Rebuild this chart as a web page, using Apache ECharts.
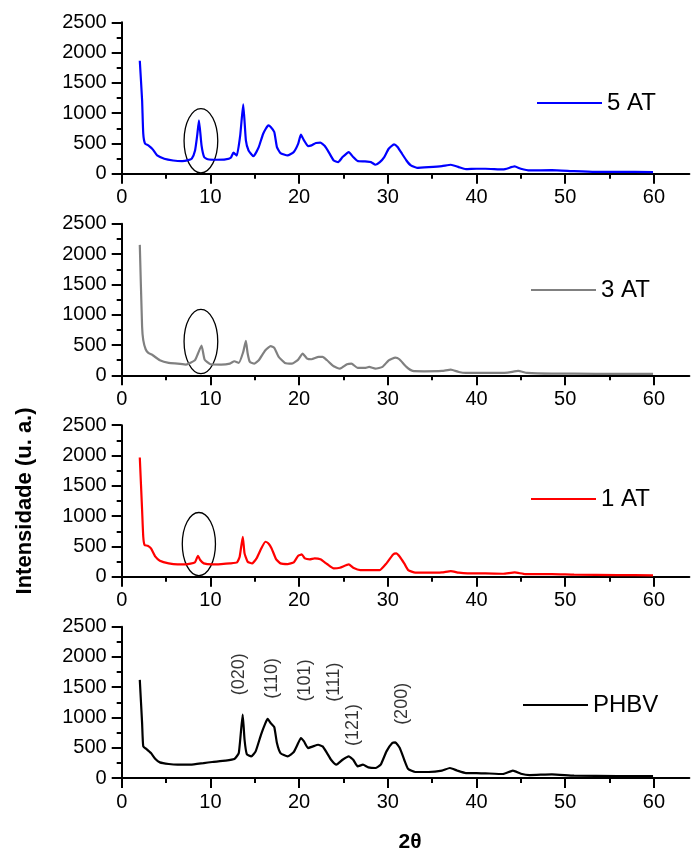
<!DOCTYPE html>
<html><head><meta charset="utf-8">
<script src="https://cdn.jsdelivr.net/npm/echarts@6/dist/echarts.min.js"></script>
<style>html,body{margin:0;padding:0;background:#fff}#c{width:692px;height:854px}</style>
</head><body><div id="c"></div>
<script>
const seriesNames = ['5 AT','3 AT','1 AT','PHBV'];
const seriesColors = ['#0000ff','#808080','#ff0000','#000000'];

const data5AT = [[2.04,1865],[2.3,1214],[2.43,662],[2.63,497],[3.0,469],[3.5,403],[4.0,303],[4.8,248],[5.8,220],[6.8,210],[7.5,225],[7.9,250],[8.27,385],[8.5,620],[8.71,882],[9.0,469],[9.3,275],[9.7,240],[10.7,232],[11.7,237],[12.3,265],[12.6,348],[12.97,300],[13.36,634],[13.7,1147],[14.0,551],[14.3,386],[14.85,290],[15.45,441],[15.95,662],[16.53,798],[16.8,773],[17.2,690],[17.5,441],[17.9,342],[18.7,303],[19.4,359],[19.9,497],[20.2,646],[20.55,552],[21.0,458],[21.4,469],[21.9,508],[22.4,513],[22.9,458],[23.4,342],[23.9,220],[24.4,193],[24.9,276],[25.6,359],[26.1,276],[26.6,210],[27.4,204],[28.1,193],[28.6,149],[29.1,193],[29.6,276],[30.1,414],[30.7,486],[31.1,441],[31.6,331],[32.1,220],[32.6,138],[33.3,99],[34.6,110],[36.1,127],[37.1,149],[38.0,110],[38.8,77],[40.0,83],[41.0,83],[43.0,72],[44.3,121],[45.0,83],[46.0,55],[48.5,61],[51,44],[53.4,33],[55.9,33],[59.9,28]];

const data3AT = [[2.04,2152],[2.3,800],[2.43,580],[2.7,430],[3.0,370],[3.5,331],[4.3,248],[5.3,204],[6.3,193],[7.25,177],[8.25,248],[8.6,360],[9.0,491],[9.35,259],[10.0,182],[11.2,177],[12.2,193],[12.7,232],[13.2,204],[13.7,386],[14.0,568],[14.2,359],[14.45,221],[14.95,193],[15.45,248],[16.2,414],[16.8,480],[17.2,453],[17.7,304],[18.4,204],[19.2,193],[19.9,259],[20.4,359],[20.9,276],[21.4,265],[22.2,304],[22.65,304],[23.15,248],[23.9,149],[24.6,110],[25.4,182],[25.9,193],[26.6,121],[27.4,121],[27.9,138],[28.6,110],[29.4,138],[30.1,248],[30.85,293],[31.3,265],[32.1,138],[32.8,72],[34.1,66],[36.1,72],[37.1,94],[38,55],[38.8,39],[41,39],[43.5,44],[44.7,72],[45.7,39],[48.5,28],[51,28],[55.9,22],[59.9,22]];

const data1AT = [[2.04,1967],[2.3,1099],[2.43,659],[2.58,522],[2.93,511],[3.3,467],[3.8,330],[4.3,264],[5.3,220],[6.3,203],[7.25,203],[8.25,236],[8.6,346],[8.85,275],[9.25,220],[10.2,203],[11.2,209],[12.2,220],[13.0,236],[13.3,330],[13.65,659],[13.85,385],[14.2,247],[14.7,220],[15.2,302],[15.7,456],[16.2,577],[16.55,549],[16.9,467],[17.4,291],[17.9,220],[18.7,209],[19.4,236],[19.9,346],[20.3,368],[20.65,302],[21.2,286],[21.75,302],[22.4,286],[23.15,209],[23.9,137],[24.6,148],[25.6,203],[26.1,148],[26.9,110],[28.1,110],[29.1,110],[29.85,220],[30.6,368],[30.95,385],[31.35,330],[31.85,220],[32.3,110],[33.1,66],[34.6,66],[36.1,71],[37.1,93],[38,66],[39,55],[41,55],[43,49],[44.3,71],[45.5,44],[48.5,44],[51,33],[55.9,27],[59.9,22]];

const dataPHBV = [[2.04,1621],[2.3,907],[2.43,522],[2.8,478],[3.3,412],[3.8,313],[4.3,258],[5.3,231],[6.3,220],[7.75,220],[9.25,247],[10.2,264],[11.7,286],[12.7,313],[13.2,412],[13.64,1048],[13.85,632],[14.1,396],[14.6,357],[15.1,440],[15.7,714],[16.2,907],[16.45,978],[16.8,907],[17.2,841],[17.5,577],[17.9,412],[18.7,357],[19.4,429],[19.9,577],[20.2,659],[20.55,604],[21.0,495],[21.55,522],[22.15,549],[22.65,522],[23.15,412],[23.6,302],[24.2,220],[24.9,302],[25.6,357],[26.1,302],[26.6,192],[27.2,220],[27.8,176],[28.6,165],[29.2,220],[29.85,440],[30.5,577],[30.85,588],[31.35,495],[31.85,302],[32.3,148],[33.1,99],[34.6,99],[36.1,121],[37.0,165],[37.85,121],[38.8,82],[40,82],[41,77],[43,66],[44.1,121],[45,71],[46,49],[48.5,60],[51,38],[55.9,33],[59.9,33]];

const xMajorTicks = [0,10,20,30,40,50,60];
const xMinorTicks = [5,15,25,35,45,55];

const hklLabels = ['(020)','(110)','(101)','(111)','(121)','(200)'];
const hklX = [13.2,17.0,20.7,23.9,26.1,31.6];
const hklY = [1713,1647,1613,1584,877,1225];

const ellipseCX = [8.93,8.93,8.7];
const ellipseCY = [546,558,538];
const ellipseRX = [1.9,1.9,1.87];
const ellipseRY = [530,530,521];

const allData = [data5AT, data3AT, data1AT, dataPHBV];
const FONT = '"Liberation Sans", Arial, sans-serif';
const gridTops = [22.3, 223.8, 425.2, 626.7];
const legendPos = [[537,91],[531,278],[531,487],[523,693]];

const grids = [], xAxes = [], yAxes = [], series = [], legends = [];
for (let i = 0; i < 4; i++) {
  grids.push({left: 121.7, top: gridTops[i], height: 151.5, right: 2.6});
  xAxes.push({
    type: 'value', gridIndex: i, min: 0, max: 64, position: 'bottom',
    axisLine: {show: true, onZero: false, lineStyle: {color: '#000', width: 2}},
    axisTick: {show: true, length: 10, customValues: xMajorTicks, lineStyle: {color: '#000', width: 2}},
    axisLabel: {show: true, customValues: xMajorTicks, margin: 14, fontSize: 20, fontFamily: FONT, color: '#000',
      formatter: v => String(v)},
    splitLine: {show: false},
    name: i === 3 ? '2θ' : '', nameLocation: 'middle', nameGap: 54,
    nameTextStyle: {fontSize: 21, fontWeight: 'bold', fontFamily: FONT, color: '#000', padding: [0,0,0,9]}
  });
  xAxes.push({
    type: 'value', gridIndex: i, min: 0, max: 64, position: 'bottom',
    axisLine: {show: false},
    axisTick: {show: true, length: 5, customValues: xMinorTicks, lineStyle: {color: '#000', width: 2}},
    axisLabel: {show: false}, splitLine: {show: false}
  });
  yAxes.push({
    type: 'value', gridIndex: i, min: 0, max: 2500, interval: 500,
    axisLine: {show: true, onZero: false, lineStyle: {color: '#000', width: 2}},
    axisTick: {show: true, length: 10, lineStyle: {color: '#000', width: 2}},
    minorTick: {show: true, splitNumber: 2, length: 5, lineStyle: {color: '#000', width: 2}},
    axisLabel: {fontSize: 20, fontFamily: FONT, color: '#000', margin: 15, formatter: v => String(v)},
    splitLine: {show: false},
    name: i === 2 ? 'Intensidade (u. a.)' : '', nameLocation: 'middle', nameRotate: 90, nameGap: 86,
    nameTextStyle: {fontSize: 22, fontWeight: 'bold', fontFamily: FONT, color: '#000'}
  });
  series.push({
    type: 'line', name: seriesNames[i], xAxisIndex: 2*i, yAxisIndex: i,
    data: allData[i], symbol: 'none', smooth: 0.15,
    lineStyle: {color: seriesColors[i], width: 2.2}, itemStyle: {color: seriesColors[i]},
    silent: true, animation: false
  });
  legends.push({
    data: [seriesNames[i]], left: legendPos[i][0], top: legendPos[i][1], padding: 0,
    icon: 'rect', itemWidth: 65, itemHeight: 2, itemGap: 0,
    textStyle: {fontSize: 24, fontFamily: FONT, color: '#000'}, selectedMode: false
  });
}
for (let i = 0; i < 3; i++) {
  series.push({
    type: 'custom', xAxisIndex: 2*i, yAxisIndex: i, silent: true, animation: false,
    data: [[ellipseCX[i], ellipseCY[i], ellipseRX[i], ellipseRY[i]]],
    renderItem: function (params, api) {
      const c = api.coord([api.value(0), api.value(1)]);
      const s = api.size([api.value(2), api.value(3)]);
      return {type: 'ellipse', shape: {cx: c[0], cy: c[1], rx: s[0], ry: s[1]},
        style: {fill: 'none', stroke: '#000', lineWidth: 1.3}};
    }
  });
}
series.push({
  type: 'scatter', xAxisIndex: 6, yAxisIndex: 3, symbolSize: 0, silent: true, animation: false,
  data: hklLabels.map((t, k) => ({name: t, value: [hklX[k], hklY[k]]})),
  label: {show: true, position: 'inside', rotate: 90, formatter: '{b}', fontSize: 18,
    fontFamily: FONT, color: '#000'}
});

const chart = echarts.init(document.getElementById('c'), null, {renderer: 'canvas'});
chart.setOption({
  animation: false, backgroundColor: '#fff',
  grid: grids, xAxis: xAxes, yAxis: yAxes, legend: legends, series: series
});
</script></body></html>
